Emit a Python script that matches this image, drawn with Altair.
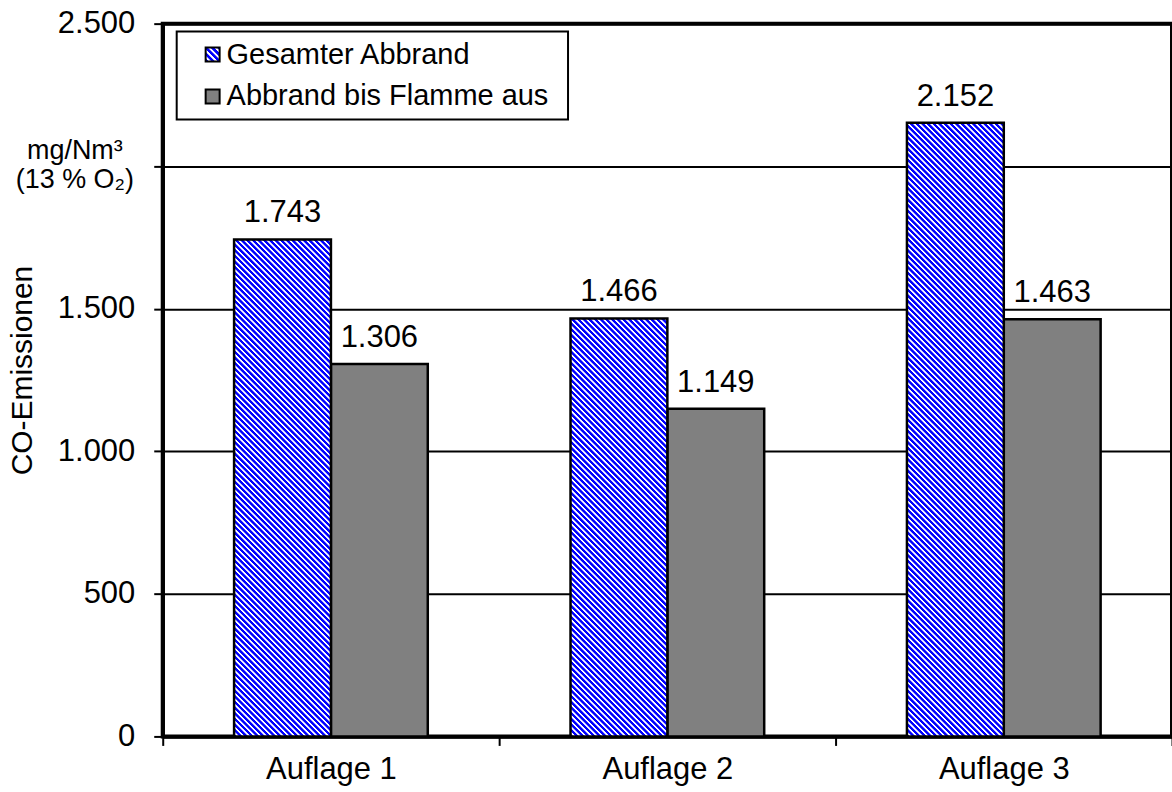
import altair as alt
import pandas as pd

# Chart values
categories = ["Auflage 1", "Auflage 2", "Auflage 3"]
series = ["Gesamter Abbrand", "Abbrand bis Flamme aus"]
gesamt = [1743, 1466, 2152]
bis_flamme_aus = [1306, 1149, 1463]
y_ticks = [0, 500, 1000, 1500, 2000, 2500]

FONT = "Liberation Sans"
PLOT_W = 1011
PLOT_H = 714
Y_MAX = 2500
BAR_W = 97
BLUE = "#0000FF"
GREY = "#808080"

df = pd.DataFrame({
    "Auflage": categories * 2,
    "Serie": [series[0]] * 3 + [series[1]] * 3,
    "Wert": gesamt + bis_flamme_aus,
})


def hatch(w, h, period):
    """Diagonal blue/white stripes at 45 degrees for a w x h box (bbox units)."""
    r = h / w
    length = (1 + r) / (1 + r * r)
    periods = (w + h) / (2 ** 0.5) / period
    stops = []
    for k in range(int(periods) + 2):
        for frac, col in ((0.0, BLUE), (0.45, BLUE), (0.6, "white"), (0.88, "white")):
            off = (k + frac) / periods
            if off <= 1:
                stops.append(alt.GradientStop(offset=round(off, 5), color=col))
    return alt.LinearGradient(
        gradient="linear", stops=stops,
        x1=0, y1=1, x2=round(length, 6), y2=round(1 - length * r, 6),
    )


x_enc = alt.X(
    "Auflage:N", sort=categories,
    scale=alt.Scale(domain=categories, paddingInner=0, paddingOuter=0),
    axis=alt.Axis(
        title=None, labelAngle=0, labelFont=FONT, labelFontSize=31,
        labelColor="black", tickBand="extent", tickSize=9, tickColor="black",
        tickWidth=2, domainColor="black", domainWidth=3.5, labelPadding=9,
        grid=False,
    ),
)
xo_enc = alt.XOffset(
    "Serie:N", sort=series,
    scale=alt.Scale(domain=series, paddingInner=0, paddingOuter=0.737),
)
y_enc = alt.Y(
    "Wert:Q",
    scale=alt.Scale(domain=[0, Y_MAX], nice=False, zero=True),
    axis=alt.Axis(
        values=y_ticks, format=",d",
        labelExpr="datum.value == 2000 ? '' : replace(datum.label, ',', '.')",
        grid=True, gridColor="black", gridWidth=2, gridOpacity=1,
        tickSize=9, tickColor="black", tickWidth=2,
        domainColor="black", domainWidth=3.5,
        labelFont=FONT, labelFontSize=31, labelColor="black", labelPadding=19,
        title="CO-Emissionen", titleFont=FONT, titleFontSize=30,
        titleFontWeight="normal", titleColor="black", titleAngle=270,
        titleX=-140, titleY=347, titleAlign="center", titleBaseline="middle",
    ),
)

base = alt.Chart(df).encode(x=x_enc, xOffset=xo_enc, y=y_enc)

grey_bars = base.transform_filter(alt.datum.Serie == series[1]).mark_bar(
    fill=GREY, stroke="black", strokeWidth=2.5
)

blue_bars = []
for cat, val in zip(categories, gesamt):
    blue_bars.append(
        base.transform_filter(
            (alt.datum.Serie == series[0]) & (alt.datum.Auflage == cat)
        ).mark_bar(
            fill=hatch(BAR_W, val / Y_MAX * PLOT_H, 4.0),
            stroke="black", strokeWidth=2.5,
        )
    )

value_labels = base.mark_text(
    baseline="alphabetic", dy=-17, font=FONT, fontSize=31, color="black"
).encode(text="lbl:N").transform_calculate(
    lbl="replace(format(datum.Wert, ','), ',', '.')"
)

# Unit annotation in place of the 2.000 tick label
unit_df = pd.DataFrame({"t": ["mg/Nm³", "(13 % O₂)"], "dy": [-7, 22]})
unit_layers = [
    alt.Chart(unit_df.iloc[[i]]).mark_text(
        align="center", baseline="alphabetic", dy=int(unit_df.dy[i]),
        font=FONT, fontSize=27, color="black",
    ).encode(x=alt.value(-88), y=alt.datum(2000), text="t:N")
    for i in range(len(unit_df))
]

# Legend box inside the plot area
box = alt.Chart(pd.DataFrame({"a": [0]})).mark_rect(
    fill="white", stroke="black", strokeWidth=2
).encode(x=alt.value(14), x2=alt.value(406), y=alt.value(8), y2=alt.value(96))

legend_layers = [box]
symbol_fills = [hatch(14, 14, 4.5), GREY]
for i, name in enumerate(series):
    cy = 31 + 42 * i
    legend_layers.append(
        alt.Chart(pd.DataFrame({"Serie": [name]})).mark_rect(
            fill=symbol_fills[i], stroke="black", strokeWidth=2
        ).encode(x=alt.value(43), x2=alt.value(57),
                 y=alt.value(cy - 7), y2=alt.value(cy + 7))
    )
    legend_layers.append(
        alt.Chart(pd.DataFrame({"Serie": [name]})).mark_text(
            align="left", baseline="middle", font=FONT, fontSize=29,
            color="black",
        ).encode(x=alt.value(64), y=alt.value(cy), text="Serie:N")
    )

chart = alt.layer(
    grey_bars, *blue_bars, value_labels, *unit_layers, *legend_layers
).properties(
    width=PLOT_W, height=PLOT_H,
    padding={"left": 163, "top": 23, "right": 0, "bottom": 55},
    autosize=alt.AutoSizeParams(type="none"),
    background="white",
).configure_view(stroke="black", strokeWidth=4)

chart.save("out.html", embed_options={"renderer": "svg", "actions": False})
